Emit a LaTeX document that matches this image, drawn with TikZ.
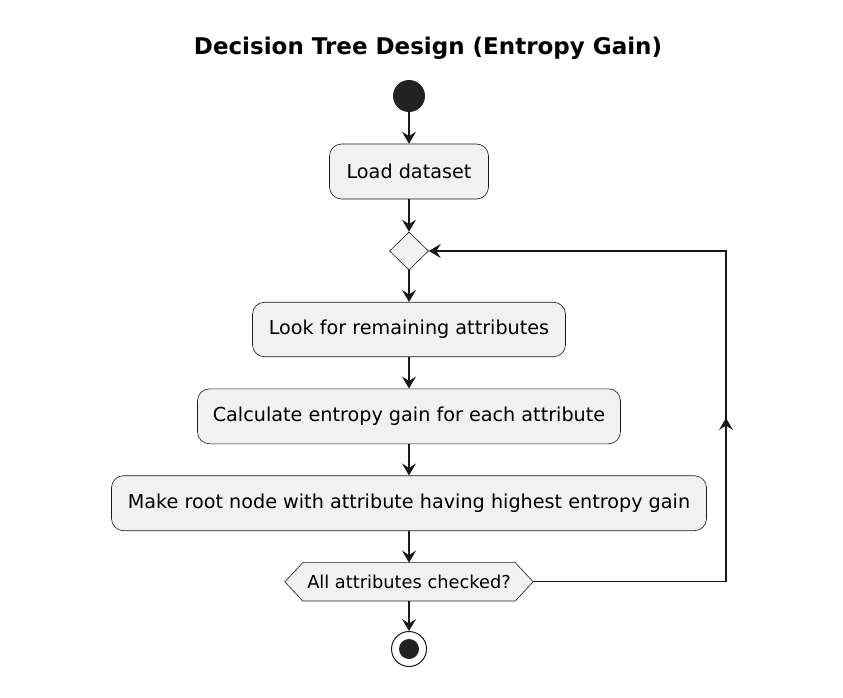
\documentclass[tikz,border=0pt]{standalone}
\usepackage{fontspec}
\setmainfont{DejaVu Sans}
\usetikzlibrary{arrows.meta,shapes.geometric,backgrounds}
\definecolor{boxfill}{HTML}{F1F1F1}
\definecolor{ink}{HTML}{181818}
\definecolor{dot}{HTML}{222222}
\tikzset{
  x=1pt,y=-1pt,
  act/.style={draw=ink,line width=0.6pt,fill=boxfill,rounded corners=12pt,
    minimum height=55pt,inner xsep=6pt,font=\fontsize{19.2}{23}\selectfont},
  conn/.style={draw=ink,line width=1.1pt,-{Stealth[length=12pt,width=14pt,inset=4.5pt]}},
}
\begin{document}
\begin{tikzpicture}
\useasboundingbox (0,0) rectangle (843,698);
\node[font=\bfseries\fontsize{23}{27}\selectfont] (title) at (428,48) {Decision Tree Design (Entropy Gain)};
\node[circle,fill=dot,minimum size=32pt,inner sep=0pt] (start) at (409,96) {};
\node[act,minimum width=159pt] (load) at (409,171.5) {Load dataset};
\node[diamond,draw=ink,line width=0.6pt,fill=boxfill,minimum width=39pt,minimum height=38pt,inner sep=0pt] (dia) at (409,251) {};
\node[act,minimum width=313pt,minimum height=54.5pt] (look) at (409,329.5) {Look for remaining attributes};
\node[act,minimum width=423pt] (calc) at (409,416.3) {Calculate entropy gain for each attribute};
\node[act,minimum width=595pt] (make) at (409,503.2) {Make root node with attribute having highest entropy gain};
\node[minimum width=248pt,minimum height=38pt,inner sep=0pt,font=\fontsize{17.8}{21}\selectfont] (hex) at (409,581.8) {All attributes checked?};
\begin{scope}[on background layer]
\draw[draw=ink,line width=0.6pt,fill=boxfill] (hex.west) -- ([xshift=18pt]hex.north west) -- ([xshift=-18pt]hex.north east) -- (hex.east) -- ([xshift=-18pt]hex.south east) -- ([xshift=18pt]hex.south west) -- cycle;
\end{scope}
\node[circle,draw=ink,line width=1pt,fill=white,minimum size=35pt,inner sep=0pt] (end) at (409,649) {};
\node[circle,fill=dot,minimum size=20pt,inner sep=0pt] (endin) at (end.center) {};
\coordinate (c1) at (726,581.8);
\coordinate (c2) at (726,251);
\coordinate (mid) at (726,418);
\draw[conn] (start) -- (load);
\draw[conn] (load) -- (dia.north);
\draw[conn] (dia.south) -- (look);
\draw[conn] (look) -- (calc);
\draw[conn] (calc) -- (make);
\draw[conn] (make) -- (hex.north);
\draw[conn] (hex.south) -- (end);
\draw[conn] (hex.east) -- (c1) -- (c2) -- (dia.east);
\draw[conn] (c1) -- (mid);
\end{tikzpicture}
\end{document}
